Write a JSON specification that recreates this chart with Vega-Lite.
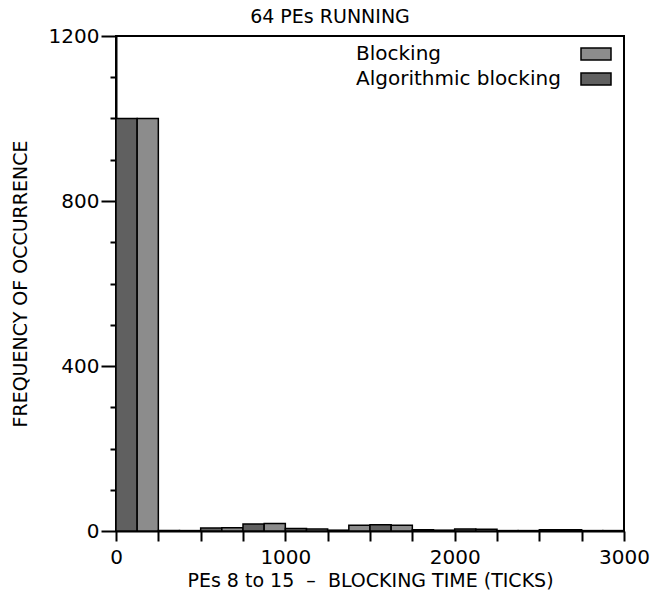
{
  "$schema": "https://vega.github.io/schema/vega-lite/v6.json",
  "width": 508,
  "height": 495,
  "autosize": {"type": "none"},
  "padding": {"left": 116, "top": 36, "right": 35, "bottom": 79},
  "background": "white",
  "title": {"text": "64 PEs RUNNING", "fontSize": 19, "fontWeight": "normal", "font": "DejaVu Sans", "color": "black", "offset": -1, "dx": -40},
  "config": {
    "view": {"stroke": "black", "strokeWidth": 2},
    "axis": {
      "domainColor": "black", "domainWidth": 2, "tickColor": "black", "tickWidth": 2,
      "labelColor": "black", "labelFont": "DejaVu Sans", "labelFontSize": 20,
      "titleColor": "black", "titleFont": "DejaVu Sans", "titleFontSize": 19, "titleFontWeight": "normal",
      "grid": false
    }
  },
  "data": {
    "values": [
      {"start": 0, "end": 125, "series": "Algorithmic blocking", "count": 1000},
      {"start": 125, "end": 250, "series": "Blocking", "count": 1000},
      {"start": 250, "end": 375, "series": "Algorithmic blocking", "count": 1},
      {"start": 375, "end": 500, "series": "Blocking", "count": 1},
      {"start": 500, "end": 625, "series": "Algorithmic blocking", "count": 7},
      {"start": 625, "end": 750, "series": "Blocking", "count": 8},
      {"start": 750, "end": 875, "series": "Algorithmic blocking", "count": 17},
      {"start": 875, "end": 1000, "series": "Blocking", "count": 18},
      {"start": 1000, "end": 1125, "series": "Algorithmic blocking", "count": 6},
      {"start": 1125, "end": 1250, "series": "Blocking", "count": 5},
      {"start": 1250, "end": 1375, "series": "Algorithmic blocking", "count": 2},
      {"start": 1375, "end": 1500, "series": "Blocking", "count": 14},
      {"start": 1500, "end": 1625, "series": "Algorithmic blocking", "count": 15},
      {"start": 1625, "end": 1750, "series": "Blocking", "count": 14},
      {"start": 1750, "end": 1875, "series": "Algorithmic blocking", "count": 3},
      {"start": 1875, "end": 2000, "series": "Blocking", "count": 2},
      {"start": 2000, "end": 2125, "series": "Algorithmic blocking", "count": 5},
      {"start": 2125, "end": 2250, "series": "Blocking", "count": 4},
      {"start": 2250, "end": 2375, "series": "Algorithmic blocking", "count": 1},
      {"start": 2375, "end": 2500, "series": "Blocking", "count": 1},
      {"start": 2500, "end": 2625, "series": "Algorithmic blocking", "count": 3},
      {"start": 2625, "end": 2750, "series": "Blocking", "count": 3},
      {"start": 2750, "end": 2875, "series": "Algorithmic blocking", "count": 1},
      {"start": 2875, "end": 3000, "series": "Blocking", "count": 1}
    ]
  },
  "mark": {"type": "bar", "stroke": "black", "strokeWidth": 1.5},
  "encoding": {
    "x": {
      "field": "start", "type": "quantitative",
      "scale": {"domain": [0, 3000], "nice": false},
      "axis": {
        "values": [0, 250, 500, 750, 1000, 1250, 1500, 1750, 2000, 2250, 2500, 2750, 3000],
        "format": "d",
        "labelExpr": "datum.value % 1000 === 0 ? datum.label : ''",
        "tickSize": 10, "labelPadding": 6, "labelFlush": false,
        "title": "PEs 8 to 15 \u00a0–\u00a0 BLOCKING TIME (TICKS)", "titlePadding": 4
      }
    },
    "x2": {"field": "end"},
    "y": {
      "field": "count", "type": "quantitative",
      "scale": {"domain": [0, 1200], "nice": false},
      "axis": {
        "values": [0, 100, 200, 300, 400, 500, 600, 700, 800, 900, 1000, 1100, 1200],
        "format": "d",
        "labelExpr": "datum.value % 400 === 0 ? datum.label : ''",
        "tickSize": {"condition": {"test": "datum.value % 400 === 0", "value": 15}, "value": 6},
        "labelPadding": 2, "labelFlush": false,
        "title": "FREQUENCY OF OCCURRENCE", "titlePadding": 18
      }
    },
    "y2": {"datum": 0},
    "fill": {
      "field": "series", "type": "nominal",
      "scale": {"domain": ["Blocking", "Algorithmic blocking"], "range": ["#8c8c8c", "#606060"]},
      "legend": {
        "title": null, "orient": "none", "legendX": 470, "legendY": 8, "padding": 0,
        "symbolType": "M-2.5,-1H2.5V1H-2.5Z", "symbolSize": 144,
        "symbolStrokeColor": "black", "symbolStrokeWidth": 1.5,
        "labelFont": "DejaVu Sans", "labelFontSize": 20, "labelColor": "black",
        "labelAlign": "left", "labelOffset": -250, "rowPadding": 5, "labelLimit": 400
      }
    }
  }
}
